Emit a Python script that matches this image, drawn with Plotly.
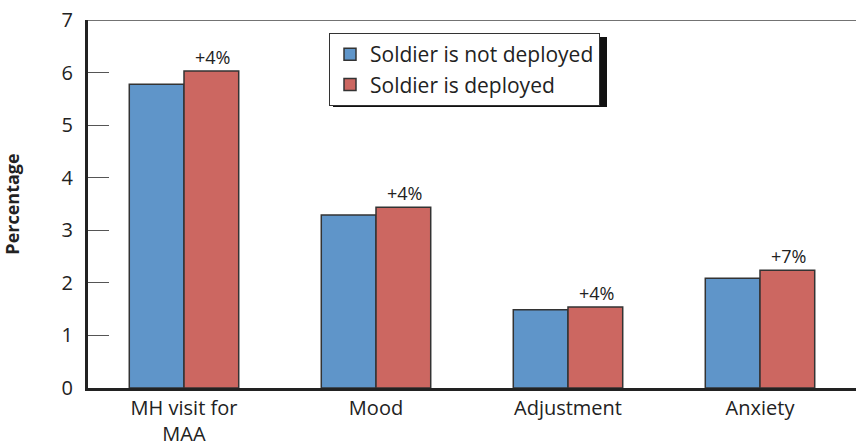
import plotly.graph_objects as go

categories = ["MH visit for<br>MAA", "Mood", "Adjustment", "Anxiety"]
not_deployed = [5.78, 3.29, 1.49, 2.09]
deployed = [6.03, 3.44, 1.54, 2.24]
increase_labels = ["+4%", "+4%", "+4%", "+7%"]
y_ticks = [0, 1, 2, 3, 4, 5, 6, 7]

FONT = "Open Sans"
W, H = 856, 446
L, T, B, R = 88, 20, 58, 0
PW, PH = W - L - R, H - T - B

fig = go.Figure()
fig.add_trace(go.Bar(
    x=categories, y=not_deployed, name="Soldier is not deployed",
    marker=dict(color="#5F95C9", line=dict(color="#333333", width=1.5)),
))
fig.add_trace(go.Bar(
    x=categories, y=deployed, name="Soldier is deployed",
    marker=dict(color="#CC6761", line=dict(color="#333333", width=1.5)),
))

for i, (c, v, t) in enumerate(zip(categories, deployed, increase_labels)):
    fig.add_annotation(x=c, y=v, text=t, showarrow=False, yanchor="bottom",
                       xshift=28, yshift=0,
                       font=dict(family=FONT, size=18, color="#222222"))

# top frame line
fig.add_shape(type="line", xref="paper", yref="y", x0=0, x1=1, y0=7, y1=7,
              line=dict(color="#444444", width=1.5))

# legend box (in figure pixels) and its shadow
LEG_X, LEG_Y, LEG_W, LEG_H, SH = 329, 33, 274, 70, 4
fig.add_shape(type="rect", xref="paper", yref="paper",
              x0=(LEG_X + SH - L) / PW, x1=(LEG_X + LEG_W + SH - L) / PW,
              y0=(H - B - (LEG_Y + LEG_H + SH)) / PH, y1=(H - B - (LEG_Y + SH)) / PH,
              fillcolor="#111111", line=dict(width=0), layer="above")

fig.update_layout(
    width=W, height=H,
    margin=dict(l=L, r=R, t=T, b=B),
    plot_bgcolor="white", paper_bgcolor="white",
    barmode="group", bargap=0.43, bargroupgap=0,
    font=dict(family=FONT, size=20, color="#222222"),
    legend=dict(x=(LEG_X - L) / PW, y=(H - B - LEG_Y) / PH, xanchor="left", yanchor="top",
                bgcolor="white", bordercolor="#333333", borderwidth=1,
                font=dict(family=FONT, size=21, color="#222222"),
                itemwidth=30, tracegroupgap=4),
    showlegend=True,
)
fig.update_xaxes(showline=True, linecolor="#222222", linewidth=3, ticks="",
                 automargin=False,
                 tickfont=dict(family=FONT, size=20, color="#222222"),
                 range=[-0.5, 3.5])
fig.update_yaxes(range=[0, 7], tickvals=y_ticks, showgrid=False, zeroline=False,
                 automargin=False,
                 showline=True, linecolor="#222222", linewidth=3,
                 ticks="inside", ticklen=21, tickwidth=1, tickcolor="#555555",
                 ticklabelstandoff=8,
                 tickfont=dict(family=FONT, size=20, color="#222222"),
                 title=dict(text="<b>Percentage</b>", standoff=47,
                            font=dict(family=FONT, size=18, color="#222222")))

fig.write_html("out.html", config={"displayModeBar": False},
               post_script="document.body.style.margin='0';")
